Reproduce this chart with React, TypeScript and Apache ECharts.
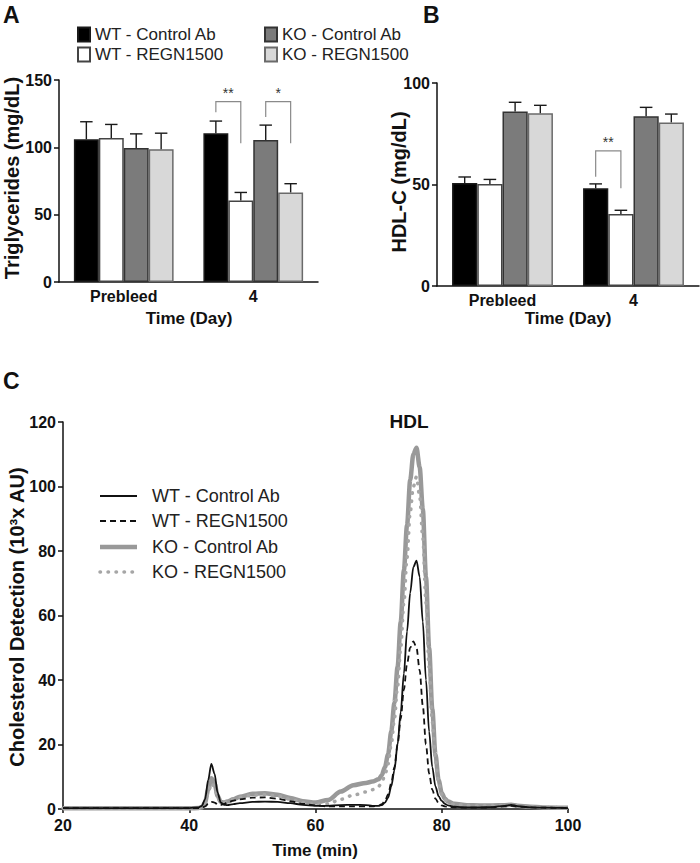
import React, { useEffect, useRef } from "react";
import * as echarts from "echarts";

// ---------- categories / names ----------
const groupNames = ["WT - Control Ab", "WT - REGN1500", "KO - Control Ab", "KO - REGN1500"];
const dayCategories = ["Prebleed", "4"];

// ---------- Panel A: Triglycerides (mg/dL) ----------
const tgWtCtrl = [106, 110.5];
const tgWtRegn = [107, 60.5];
const tgKoCtrl = [99.5, 105.5];
const tgKoRegn = [98.5, 66.5];
const tgWtCtrlSem = [13, 9];
const tgWtRegnSem = [10, 6];
const tgKoCtrlSem = [10.5, 11];
const tgKoRegnSem = [12, 6.5];
const tgTicks = [0, 50, 100, 150];

// ---------- Panel B: HDL-C (mg/dL) ----------
const hdlWtCtrl = [50.7, 48.1];
const hdlWtRegn = [50.2, 35.5];
const hdlKoCtrl = [85.9, 83.6];
const hdlKoRegn = [85.1, 80.6];
const hdlWtCtrlSem = [3, 2.2];
const hdlWtRegnSem = [2.3, 1.8];
const hdlKoCtrlSem = [4.6, 4.4];
const hdlKoRegnSem = [3.9, 4.1];
const hdlTicks = [0, 50, 100];

// significance brackets: [category, left bar, right bar, top, left leg end, right leg end]
const tgBrackets = [
  [1, 0, 1, 134, 126, 103],
  [1, 2, 3, 134, 122.5, 103],
];
const tgBracketLabels = ["**", "*"];
const hdlBrackets = [[1, 0, 1, 66.6, 53.8, 48.1]];
const hdlBracketLabels = ["**"];

// ---------- Panel C: FPLC cholesterol profile (10^3 x AU) ----------
const fplcTime = [20, 30, 40, 41.5, 42, 42.5, 43, 43.5, 44, 44.5, 45, 45.5, 46, 47, 48, 50, 52, 54, 56, 58, 60, 62, 64, 66, 68, 69, 70, 70.5, 71, 71.5, 72, 72.5, 73, 73.5, 74, 74.5, 75, 75.5, 76, 76.5, 77, 77.5, 78, 78.5, 79, 79.5, 80, 80.5, 81, 82, 84, 86, 88, 90, 91, 92, 94, 96, 100];
const fplcWtCtrl = [0.3, 0.3, 0.3, 0.5, 1.0, 3, 9, 14, 11, 5, 2, 1.3, 1.2, 1.5, 1.8, 2.2, 2.3, 2.2, 1.8, 1.3, 1.0, 1.0, 1.2, 1.3, 1.2, 1.0, 1.0, 1.2, 2, 3.5, 7, 12, 20, 30, 42, 55, 67, 75, 77, 72, 58, 40, 24, 13, 7, 4, 2.5, 1.6, 1.1, 0.7, 0.5, 0.5, 0.6, 1.0, 1.3, 0.9, 0.5, 0.4, 0.3];
const fplcWtRegn = [0.3, 0.3, 0.3, 0.3, 0.4, 0.8, 1.6, 2.2, 2.0, 1.4, 1.3, 1.6, 2.0, 2.6, 3.0, 3.5, 3.6, 3.2, 2.4, 1.6, 1.1, 0.8, 0.8, 0.8, 0.8, 0.8, 1.0, 1.5, 2.5, 4.5, 8, 13, 20, 28, 37, 45, 50, 52, 50, 43, 32, 20, 11, 6, 3.2, 1.8, 1.1, 0.8, 0.6, 0.5, 0.4, 0.4, 0.5, 0.8, 1.0, 0.8, 0.5, 0.4, 0.3];
const fplcKoCtrl = [0.2, 0.2, 0.2, 0.3, 0.5, 2, 6, 9.5, 8, 4, 2.2, 2.0, 2.3, 3.0, 3.8, 4.7, 4.9, 4.4, 3.4, 2.4, 2.0, 2.8, 5.4, 7.4, 8.1, 8.5, 9.2, 10.5, 13, 17, 24, 33, 44, 58, 74, 88, 102, 110, 112, 106, 93, 72, 50, 31, 17, 9, 5, 3.2, 2.3, 1.6, 1.2, 1.1, 1.1, 1.2, 1.3, 1.0, 0.7, 0.5, 0.4];
const fplcKoRegn = [0.2, 0.2, 0.2, 0.3, 0.5, 1.8, 5, 8, 7, 3.5, 2.0, 2.0, 2.3, 3.0, 3.6, 4.3, 4.5, 4.0, 3.0, 2.0, 1.4, 1.6, 3.0, 4.3, 5.3, 6.0, 7.0, 8.3, 10.5, 14, 20, 28, 38, 50, 64, 78, 92, 100, 103, 97, 84, 64, 44, 27, 15, 8, 4.5, 2.8, 2.0, 1.4, 1.1, 1.0, 1.0, 1.1, 1.2, 1.0, 0.7, 0.5, 0.4];
const fplcXTicks = [20, 40, 60, 80, 100];
const fplcYTicks = [0, 20, 40, 60, 80, 100, 120];

// ---------- styling ----------
const FONT = "'Liberation Sans', Arial, Helvetica, sans-serif";
const CAT_GAP = 0.23;
const barFill = ["#000000", "#ffffff", "#7b7b7b", "#d8d8d8"];
const barBorder = ["#1a1a1a", "#444444", "#333333", "#6a6a6a"];

function barLayout(api: any, cat: number, idx: number) {
  const center = api.coord([cat, 0])[0];
  const band = api.size([1, 0])[0];
  const group = band * (1 - CAT_GAP);
  const w = group / 4;
  return { x: center - group / 2 + (idx + 0.5) * w, w };
}

function errorSeries(axis: number, means: number[][], sems: number[][]) {
  const data: number[][] = [];
  means.forEach((m, idx) => m.forEach((v, cat) => data.push([cat, v, sems[idx][cat], idx])));
  return {
    type: "custom",
    name: "error" + axis,
    xAxisIndex: axis,
    yAxisIndex: axis,
    silent: true,
    clip: false,
    z: 5,
    encode: { x: 0, y: 1 },
    data,
    renderItem: (_p: any, api: any) => {
      const cat = api.value(0);
      const mean = api.value(1);
      const sem = api.value(2);
      const idx = api.value(3);
      const { x, w } = barLayout(api, cat, idx);
      const y0 = api.coord([cat, mean])[1];
      const y1 = api.coord([cat, mean + sem])[1];
      const cap = w * 0.5;
      const stroke = "#1a1a1a";
      return {
        type: "group",
        children: [
          { type: "line", shape: { x1: x, y1: y0, x2: x, y2: y1 }, style: { stroke, lineWidth: 1.4 } },
          { type: "line", shape: { x1: x - cap / 2, y1: y1, x2: x + cap / 2, y2: y1 }, style: { stroke, lineWidth: 1.4 } },
        ],
      };
    },
  };
}

function bracketSeries(axis: number, brackets: number[][], labels: string[]) {
  return {
    type: "custom",
    name: "significance" + axis,
    xAxisIndex: axis,
    yAxisIndex: axis,
    silent: true,
    clip: false,
    z: 6,
    encode: { x: 0, y: 3 },
    data: brackets,
    renderItem: (p: any, api: any) => {
      const cat = api.value(0);
      const l = barLayout(api, cat, api.value(1)).x;
      const r = barLayout(api, cat, api.value(2)).x;
      const yTop = api.coord([cat, api.value(3)])[1];
      const yL = api.coord([cat, api.value(4)])[1];
      const yR = api.coord([cat, api.value(5)])[1];
      return {
        type: "group",
        children: [
          {
            type: "polyline",
            shape: { points: [[l, yL], [l, yTop], [r, yTop], [r, yR]] },
            style: { stroke: "#8a8a8a", lineWidth: 1.2, fill: "none" },
          },
          {
            type: "text",
            x: (l + r) / 2,
            y: yTop - 2,
            style: {
              text: labels[p.dataIndex],
              font: `14px ${FONT}`,
              fill: "#333",
              textAlign: "center",
              textVerticalAlign: "bottom",
              align: "center",
              verticalAlign: "bottom",
            },
          },
        ],
      };
    },
  };
}

function barSeries(axis: number, values: number[][]) {
  return values.map((vals, i) => ({
    type: "bar",
    name: groupNames[i],
    xAxisIndex: axis,
    yAxisIndex: axis,
    data: vals,
    barGap: "0%",
    barCategoryGap: `${CAT_GAP * 100}%`,
    itemStyle: { color: barFill[i], borderColor: barBorder[i], borderWidth: 1.5 },
    emphasis: { disabled: true },
  }));
}

const axisLineStyle = { color: "#111", width: 1.5 };

function catAxis(grid: number) {
  return {
    type: "category",
    gridIndex: grid,
    data: dayCategories,
    axisLine: { lineStyle: axisLineStyle },
    axisTick: { show: false },
    axisLabel: { margin: 6, fontSize: 16, fontWeight: "bold", color: "#111", fontFamily: FONT },
  };
}

function valAxis(grid: number, ticks: number[], size: number) {
  return {
    type: "value",
    gridIndex: grid,
    min: ticks[0],
    max: ticks[ticks.length - 1],
    interval: ticks[1] - ticks[0],
    splitLine: { show: false },
    axisLine: { show: true, lineStyle: axisLineStyle },
    axisTick: { show: true, length: 5, lineStyle: axisLineStyle },
    axisLabel: { margin: 7, fontSize: size, fontWeight: "bold", color: "#111", fontFamily: FONT },
  };
}

function text(x: number, y: number, t: string, size: number, bold: boolean, opts: any = {}) {
  return {
    type: "text",
    x,
    y,
    rotation: opts.rotation || 0,
    style: {
      text: t,
      font: `${bold ? "bold " : ""}${size}px ${FONT}`,
      fill: opts.fill || "#111",
      textAlign: opts.align || "center",
      textVerticalAlign: "middle",
    },
  };
}

const cLegendY = [496, 521, 547, 572];
const cLegendStyles = [
  { stroke: "#111", lineWidth: 1.8 },
  { stroke: "#111", lineWidth: 1.8, lineDash: [6, 4] },
  { stroke: "#999", lineWidth: 4.5 },
  { stroke: "#a6a6a6", lineWidth: 3.5, lineDash: [0.5, 7.5], lineCap: "round" },
];

export default function App() {
  const ref = useRef<HTMLDivElement>(null);
  useEffect(() => {
    document.body.style.margin = "0";
    const chart = echarts.init(ref.current!, null, { renderer: "svg" });

    const lineSeries = [
      { idx: 2, data: fplcKoCtrl, style: { color: "#999", width: 4.5 } },
      { idx: 3, data: fplcKoRegn, style: { color: "#a6a6a6", width: 3.5, type: [0.5, 7.5], cap: "round" } },
      { idx: 1, data: fplcWtRegn, style: { color: "#111", width: 1.8, type: [6, 4] } },
      { idx: 0, data: fplcWtCtrl, style: { color: "#111", width: 1.8 } },
    ].map((s) => ({
      type: "line",
      name: groupNames[s.idx],
      xAxisIndex: 2,
      yAxisIndex: 2,
      data: fplcTime.map((t, i) => [t, s.data[i]]),
      showSymbol: false,
      symbol: "none",
      smooth: 0.3,
      smoothMonotone: "x",
      lineStyle: s.style,
      emphasis: { disabled: true },
      silent: true,
    }));

    const graphic: any[] = [
      text(3, 15, "A", 23, true, { align: "left" }),
      text(423, 15, "B", 23, true, { align: "left" }),
      text(3, 381, "C", 23, true, { align: "left" }),
      text(12, 178, "Triglycerides (mg/dL)", 20, true, { rotation: Math.PI / 2 }),
      text(399, 182, "HDL-C (mg/dL)", 20, true, { rotation: Math.PI / 2 }),
      text(17, 617, "Cholesterol Detection (10³x AU)", 20, true, { rotation: Math.PI / 2 }),
      text(189, 318, "Time (Day)", 17, true),
      text(568, 318, "Time (Day)", 17, true),
      text(315, 850, "Time (min)", 17, true),
      text(409, 421, "HDL", 19, true),
    ];
    cLegendY.forEach((y, i) => {
      graphic.push({ type: "line", shape: { x1: 100, y1: y, x2: 137, y2: y }, style: cLegendStyles[i] });
      graphic.push(text(152, y, groupNames[i], 18, false, { align: "left", fill: "#222" }));
    });

    chart.setOption({
      animation: false,
      textStyle: { fontFamily: FONT },
      legend: [
        {
          orient: "vertical",
          left: 72,
          top: 21,
          itemWidth: 12,
          itemHeight: 14,
          itemGap: 3,
          icon: "rect",
          selectedMode: false,
          data: [groupNames[0], groupNames[1]],
          textStyle: { fontSize: 17, color: "#222", fontFamily: FONT },
        },
        {
          orient: "vertical",
          left: 259,
          top: 21,
          itemWidth: 12,
          itemHeight: 14,
          itemGap: 3,
          icon: "rect",
          selectedMode: false,
          data: [groupNames[2], groupNames[3]],
          textStyle: { fontSize: 17, color: "#222", fontFamily: FONT },
        },
      ],
      grid: [
        { left: 59, top: 80, width: 259, height: 202 },
        { left: 437, top: 83, width: 262, height: 203 },
        { left: 63, top: 422, width: 505, height: 387 },
      ],
      xAxis: [
        catAxis(0),
        catAxis(1),
        {
          type: "value",
          gridIndex: 2,
          min: fplcXTicks[0],
          max: fplcXTicks[fplcXTicks.length - 1],
          interval: fplcXTicks[1] - fplcXTicks[0],
          splitLine: { show: false },
          axisLine: { lineStyle: axisLineStyle },
          axisTick: { show: true, length: 4, lineStyle: axisLineStyle },
          axisLabel: { margin: 8, fontSize: 16, fontWeight: "bold", color: "#111", fontFamily: FONT },
        },
      ],
      yAxis: [valAxis(0, tgTicks, 16), valAxis(1, hdlTicks, 16), valAxis(2, fplcYTicks, 16)],
      series: [
        ...barSeries(0, [tgWtCtrl, tgWtRegn, tgKoCtrl, tgKoRegn]),
        ...barSeries(1, [hdlWtCtrl, hdlWtRegn, hdlKoCtrl, hdlKoRegn]),
        errorSeries(0, [tgWtCtrl, tgWtRegn, tgKoCtrl, tgKoRegn], [tgWtCtrlSem, tgWtRegnSem, tgKoCtrlSem, tgKoRegnSem]),
        errorSeries(1, [hdlWtCtrl, hdlWtRegn, hdlKoCtrl, hdlKoRegn], [hdlWtCtrlSem, hdlWtRegnSem, hdlKoCtrlSem, hdlKoRegnSem]),
        bracketSeries(0, tgBrackets, tgBracketLabels),
        bracketSeries(1, hdlBrackets, hdlBracketLabels),
        ...lineSeries,
      ],
      graphic,
    });
    return () => chart.dispose();
  }, []);
  return <div ref={ref} style={{ width: 700, height: 863 }} />;
}
